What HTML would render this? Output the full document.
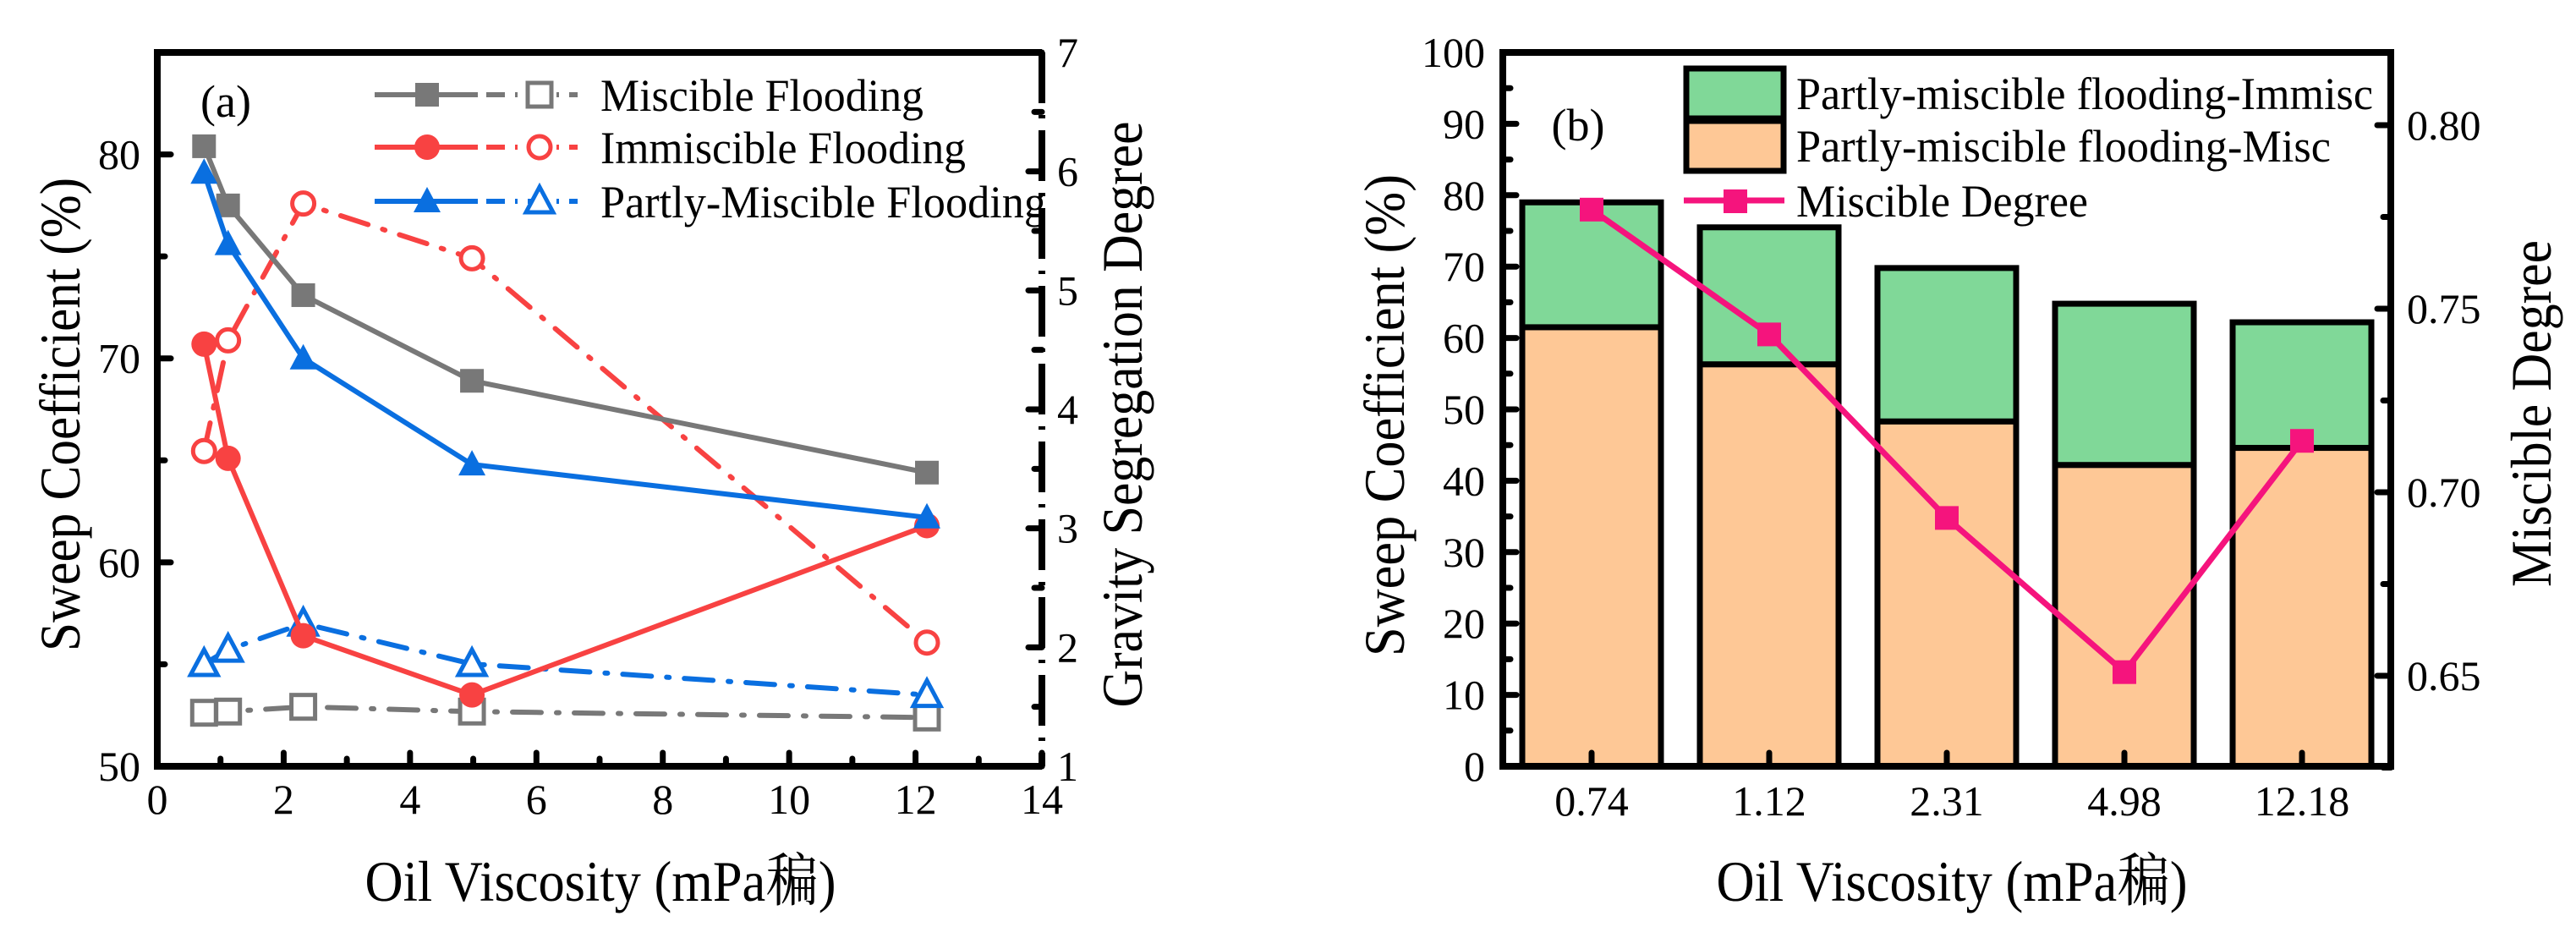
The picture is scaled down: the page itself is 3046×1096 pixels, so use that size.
<!DOCTYPE html>
<html><head><meta charset="utf-8"><style>
html,body{margin:0;padding:0;background:#fff}
svg{display:block}
text{font-family:"Liberation Serif","Noto Serif CJK SC",serif;fill:#000}
</style></head><body>
<svg id="root" width="3046" height="1096" viewBox="0 0 3046 1096" xmlns="http://www.w3.org/2000/svg">
<g id="A"></g>
<g id="B"></g>
</svg>
<script>
// ---- Chart (a) data ----
const viscA = [0.74, 1.12, 2.31, 4.98, 12.18];
const miscSweep = [80.4, 77.5, 73.1, 68.9, 64.4];
const immSweep = [70.7, 65.1, 56.4, 53.5, 61.8];
const partSweep = [79.1, 75.6, 70.0, 64.8, 62.2];
const miscGrav = [1.45, 1.46, 1.50, 1.46, 1.41];
const immGrav = [3.65, 4.58, 5.73, 5.27, 2.04];
const partGrav = [1.86, 1.98, 2.20, 1.86, 1.60];
const xTicksA = [0, 2, 4, 6, 8, 10, 12, 14];
const yTicksA = [50, 60, 70, 80];
const y2TicksA = [1, 2, 3, 4, 5, 6, 7];
// ---- Chart (b) data ----
const catsB = ["0.74", "1.12", "2.31", "4.98", "12.18"];
const miscPart = [61.5, 56.3, 48.3, 42.2, 44.6];
const totalPart = [79.0, 75.5, 69.8, 64.8, 62.2];
const miscDegree = [0.777, 0.743, 0.693, 0.651, 0.714];
const yTicksB = [0, 10, 20, 30, 40, 50, 60, 70, 80, 90, 100];
const y2TicksB = ["0.65", "0.70", "0.75", "0.80"];

const NS = "http://www.w3.org/2000/svg";
function mk(parent, tag, attrs, txt) {
  const e = document.createElementNS(NS, tag);
  for (const k in attrs) e.setAttribute(k, attrs[k]);
  if (txt !== undefined) e.textContent = txt;
  parent.appendChild(e);
  return e;
}
const A = document.getElementById('A');
const B = document.getElementById('B');
const GRAY = "#787878", RED = "#f84242", BLUE = "#0a6fe0", PINK = "#f5147d";

// ===== Chart A =====
const aL = 186, aR = 1232, aT = 62, aB = 906;
const xA = v => aL + (v / 14) * (aR - aL);
const yA = v => aB - (v - 50) / 35 * (aB - aT);
const y2A = v => aB - (v - 1) / 6 * (aB - aT);

function marker(g, kind, cx, cy, col, filled) {
  let e;
  const fill = filled ? col : "#fff";
  if (kind === 'sq') e = mk(g, 'rect', {x: cx - 14, y: cy - 14, width: 28, height: 28, fill: fill, stroke: col, 'stroke-width': filled ? 0 : 5});
  else if (kind === 'ci') e = mk(g, 'circle', {cx: cx, cy: cy, r: filled ? 15 : 13, fill: fill, stroke: col, 'stroke-width': filled ? 0 : 5});
  else e = mk(g, 'polygon', {points: `${cx},${cy-17} ${cx+16},${cy+13} ${cx-16},${cy+13}`, fill: fill, stroke: col, 'stroke-width': filled ? 0 : 5});
  
  
}
function series(g, xs, ys, xf, yf, col, dash, kind, filled, name) {
  const sg = mk(g, 'g', {});
  
  
  const pts = xs.map((x, i) => `${xf(x)},${yf(ys[i])}`).join(' ');
  const pl = mk(sg, 'polyline', {points: pts, fill: 'none', stroke: col, 'stroke-width': 6, 'stroke-dasharray': dash, 'stroke-linecap': 'round'});
  
  
  xs.forEach((x, i) => marker(sg, kind, xf(x), yf(ys[i]), col, filled));
}

// ticks A
xTicksA.forEach(t => {
  const l = mk(A, 'line', {x1: xA(t), x2: xA(t), y1: aB, y2: aB - 16, stroke: '#000', 'stroke-width': 7, 'stroke-linecap': 'round'});
  
  
  const tx = mk(A, 'text', {x: xA(t), y: 962, 'text-anchor': 'middle', 'font-size': 50}, String(t));
  
  
  if (t < 14) mk(A, 'line', {x1: xA(t + 1), x2: xA(t + 1), y1: aB, y2: aB - 9, stroke: '#000', 'stroke-width': 7, 'stroke-linecap': 'round'});
});
yTicksA.forEach(t => {
  mk(A, 'line', {x1: aL, x2: aL + 16, y1: yA(t), y2: yA(t), stroke: '#000', 'stroke-width': 7, 'stroke-linecap': 'round'});
  const tx = mk(A, 'text', {x: 166, y: yA(t) + 17, 'text-anchor': 'end', 'font-size': 50}, String(t));
  
  
  mk(A, 'line', {x1: aL, x2: aL + 9, y1: yA(t + 5), y2: yA(t + 5), stroke: '#000', 'stroke-width': 7, 'stroke-linecap': 'round'});
});
y2TicksA.forEach(t => {
  mk(A, 'line', {x1: aR, x2: aR - 16, y1: y2A(t), y2: y2A(t), stroke: '#000', 'stroke-width': 7, 'stroke-linecap': 'round'});
  const tx = mk(A, 'text', {x: 1250, y: y2A(t) + 17, 'font-size': 50}, String(t));
  
  
  if (t < 7) mk(A, 'line', {x1: aR, x2: aR - 9, y1: y2A(t + 0.5), y2: y2A(t + 0.5), stroke: '#000', 'stroke-width': 7, 'stroke-linecap': 'round'});
});
// spines
mk(A, 'polyline', {points: `${aR},${aT} ${aL},${aT} ${aL},${aB} ${aR},${aB}`, fill: 'none', stroke: '#000', 'stroke-width': 8,  });
mk(A, 'line', {x1: aR, x2: aR, y1: aT, y2: aB, stroke: '#000', 'stroke-width': 8, 'stroke-dasharray': '60 14 4 14',  });

// series
const DASHDOT = '34 18 3 18';
series(A, viscA, miscGrav, xA, y2A, GRAY, DASHDOT, 'sq', false, 'miscible-gravity-series');
series(A, viscA, immGrav, xA, y2A, RED, DASHDOT, 'ci', false, 'immiscible-gravity-series');
series(A, viscA, partGrav, xA, y2A, BLUE, DASHDOT, 'tr', false, 'partly-gravity-series');
series(A, viscA, miscSweep, xA, yA, GRAY, 'none', 'sq', true, 'miscible-sweep-series');
series(A, viscA, immSweep, xA, yA, RED, 'none', 'ci', true, 'immiscible-sweep-series');
series(A, viscA, partSweep, xA, yA, BLUE, 'none', 'tr', true, 'partly-sweep-series');

// legend A
const legA = [["Miscible Flooding", GRAY, 'sq', 112, 382], ["Immiscible Flooding", RED, 'ci', 174, 432], ["Partly-Miscible Flooding", BLUE, 'tr', 238, 527]];
legA.forEach(([lab, col, kind, y, w]) => {
  const g = mk(A, 'g', {});
  
  
  mk(g, 'line', {x1: 443, x2: 565, y1: y, y2: y, stroke: col, 'stroke-width': 6});
  mk(g, 'line', {x1: 575, x2: 683, y1: y, y2: y, stroke: col, 'stroke-width': 6, 'stroke-dasharray': '22 12 3 12'});
  marker(g, kind, 505, y, col, true);
  marker(g, kind, 638, y, col, false);
  mk(g, 'text', {x: 710, y: y + 19, 'font-size': 54, textLength: w, lengthAdjust: 'spacingAndGlyphs'}, lab);
});
mk(A, 'text', {x: 267, y: 138, 'text-anchor': 'middle', 'font-size': 54,  }, "(a)");
mk(A, 'text', {x: 0, y: 0, transform: 'translate(94,490) rotate(-90)', 'text-anchor': 'middle', 'font-size': 68, textLength: 560, lengthAdjust: 'spacingAndGlyphs',  }, "Sweep Coefficient (%)");
mk(A, 'text', {x: 0, y: 0, transform: 'translate(1350,490) rotate(-90)', 'text-anchor': 'middle', 'font-size': 68, textLength: 693, lengthAdjust: 'spacingAndGlyphs',  }, "Gravity Segregation Degree");
mk(A, 'text', {x: 710, y: 1065, 'text-anchor': 'middle', 'font-size': 68, textLength: 557, lengthAdjust: 'spacingAndGlyphs',  }, "Oil Viscosity (mPa稨)");

// ===== Chart B =====
const bL = 1777, bR = 2827, bT = 62, bB = 906;
const band = (bR - bL) / catsB.length;
const xB = i => bL + band * (i + 0.5);
const yB = v => bB - v / 100 * (bB - bT);
const y2B = v => 148 + (0.80 - v) / 0.05 * 217;
const bw = 164;
catsB.forEach((c, i) => {
  const g = mk(B, 'g', {});
  
  
  const r1 = mk(g, 'rect', {x: xB(i) - bw / 2, y: yB(totalPart[i]), width: bw, height: yB(miscPart[i]) - yB(totalPart[i]), fill: '#80d898', stroke: '#000', 'stroke-width': 7});
  
  
  const r2 = mk(g, 'rect', {x: xB(i) - bw / 2, y: yB(miscPart[i]), width: bw, height: bB - yB(miscPart[i]), fill: '#fec896', stroke: '#000', 'stroke-width': 7});
  
  
  mk(B, 'line', {x1: xB(i), x2: xB(i), y1: bB, y2: bB - 16, stroke: '#000', 'stroke-width': 7, 'stroke-linecap': 'round'});
  const tx = mk(B, 'text', {x: xB(i), y: 964, 'text-anchor': 'middle', 'font-size': 50}, c);
  
  
});
yTicksB.forEach(t => {
  mk(B, 'line', {x1: bL, x2: bL + 16, y1: yB(t), y2: yB(t), stroke: '#000', 'stroke-width': 7, 'stroke-linecap': 'round'});
  if (t < 100) mk(B, 'line', {x1: bL, x2: bL + 9, y1: yB(t + 5), y2: yB(t + 5), stroke: '#000', 'stroke-width': 7, 'stroke-linecap': 'round'});
  const tx = mk(B, 'text', {x: 1756, y: yB(t) + 17, 'text-anchor': 'end', 'font-size': 50}, String(t));
  
  
});
y2TicksB.forEach(t => {
  const v = parseFloat(t);
  mk(B, 'line', {x1: bR, x2: bR - 16, y1: y2B(v), y2: y2B(v), stroke: '#000', 'stroke-width': 7, 'stroke-linecap': 'round'});
  mk(B, 'line', {x1: bR, x2: bR - 9, y1: y2B(v - 0.025), y2: y2B(v - 0.025), stroke: '#000', 'stroke-width': 7, 'stroke-linecap': 'round'});
  const tx = mk(B, 'text', {x: 2846, y: y2B(v) + 17, 'font-size': 50}, t);
  
  
});
mk(B, 'rect', {x: bL, y: bT, width: bR - bL, height: bB - bT, fill: 'none', stroke: '#000', 'stroke-width': 8,  });
// miscible degree line
(function () {
  const g = mk(B, 'g', {});
  
  
  mk(g, 'polyline', {points: miscDegree.map((v, i) => `${xB(i)},${y2B(v)}`).join(' '), fill: 'none', stroke: PINK, 'stroke-width': 7});
  miscDegree.forEach((v, i) => {
    const r = mk(g, 'rect', {x: xB(i) - 14, y: y2B(v) - 14, width: 28, height: 28, fill: PINK});
    
    
  });
})();
// legend B
mk(B, 'rect', {x: 1994, y: 81, width: 115, height: 59, fill: '#80d898', stroke: '#000', 'stroke-width': 7,  });
mk(B, 'rect', {x: 1994, y: 143, width: 115, height: 59, fill: '#fec896', stroke: '#000', 'stroke-width': 7,  });
mk(B, 'line', {x1: 1991, x2: 2110, y1: 237, y2: 237, stroke: PINK, 'stroke-width': 7,  });
mk(B, 'rect', {x: 2038, y: 224, width: 28, height: 28, fill: PINK,  });
mk(B, 'text', {x: 2124, y: 129, 'font-size': 54, textLength: 682, lengthAdjust: 'spacingAndGlyphs',  }, "Partly-miscible flooding-Immisc");
mk(B, 'text', {x: 2124, y: 191, 'font-size': 54, textLength: 632, lengthAdjust: 'spacingAndGlyphs',  }, "Partly-miscible flooding-Misc");
mk(B, 'text', {x: 2124, y: 256, 'font-size': 54, textLength: 345, lengthAdjust: 'spacingAndGlyphs',  }, "Miscible Degree");
mk(B, 'text', {x: 1866, y: 166, 'text-anchor': 'middle', 'font-size': 54,  }, "(b)");
mk(B, 'text', {x: 0, y: 0, transform: 'translate(1660,491) rotate(-90)', 'text-anchor': 'middle', 'font-size': 68, textLength: 570, lengthAdjust: 'spacingAndGlyphs',  }, "Sweep Coefficient (%)");
mk(B, 'text', {x: 0, y: 0, transform: 'translate(3016,489) rotate(-90)', 'text-anchor': 'middle', 'font-size': 68, textLength: 410, lengthAdjust: 'spacingAndGlyphs',  }, "Miscible Degree");
mk(B, 'text', {x: 2308, y: 1065, 'text-anchor': 'middle', 'font-size': 68, textLength: 557, lengthAdjust: 'spacingAndGlyphs',  }, "Oil Viscosity (mPa稨)");
</script>
</body></html>
